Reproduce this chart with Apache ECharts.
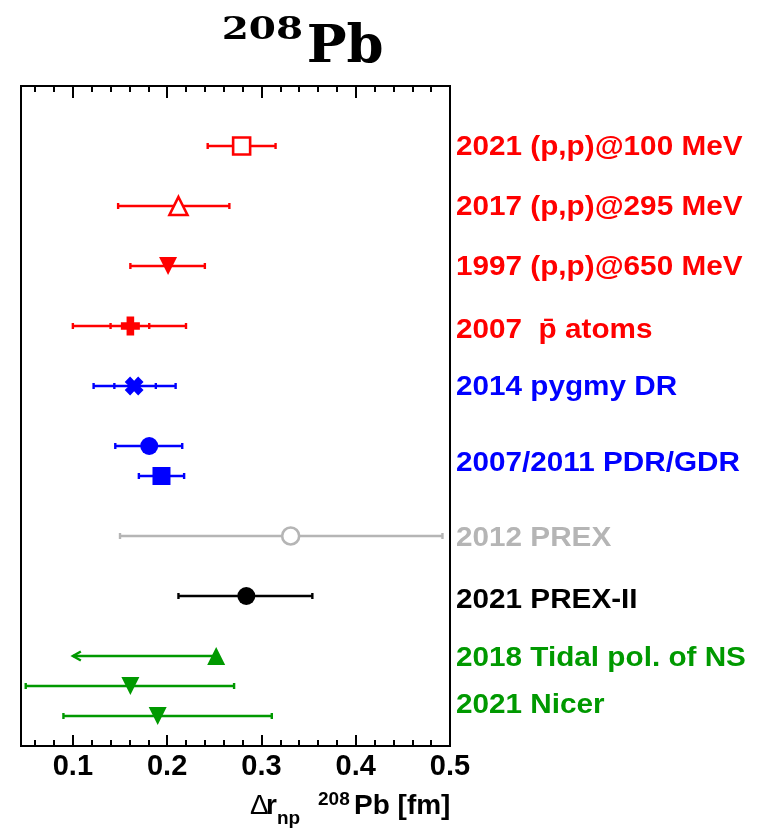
<!DOCTYPE html>
<html><head><meta charset="utf-8">
<script src="https://cdn.jsdelivr.net/npm/echarts@6/dist/echarts.min.js"></script>
<style>html,body{margin:0;padding:0;background:#fff}#c{width:759px;height:829px}</style>
</head><body><div id="c"></div>
<script>
// ---- data ----
const xMin = 0.045, xMax = 0.5;
const xTicks = [0.1, 0.2, 0.3, 0.4, 0.5];
const xMinorTicks = [0.06, 0.08, 0.12, 0.14, 0.16, 0.18, 0.22, 0.24, 0.26, 0.28, 0.32, 0.34, 0.36, 0.38, 0.42, 0.44, 0.46, 0.48];

const labelTexts = ["2021 (p,p)@100 MeV", "2017 (p,p)@295 MeV", "1997 (p,p)@650 MeV", "2007  p\u0304 atoms", "2014 pygmy DR", "2007/2011 PDR/GDR", "2012 PREX", "2021 PREX-II", "2018 Tidal pol. of NS", "2021 Nicer"];
const labelRows = [2, 4, 6, 8.1, 10, 12.55, 15.05, 17.1, 19.05, 20.6];
const labelGroups = ["red", "red", "red", "red", "blue", "blue", "gray", "black", "green", "green"];

const pointRows   = [2, 4, 6, 8, 10, 12, 13, 15, 17, 19, 20, 21];
const pointValues = [0.279, 0.212, 0.201, 0.161, 0.165, 0.181, 0.194, 0.331, 0.284, 0.252, 0.161, 0.190];
const errLow      = [0.243, 0.148, 0.161, 0.100, 0.122, 0.145, 0.170, 0.150, 0.212, 0.100, 0.050, 0.090];
const errHigh     = [0.315, 0.266, 0.240, 0.220, 0.209, 0.216, 0.218, 0.492, 0.354, 0.252, 0.271, 0.311];
const statLow     = [null, null, null, 0.140, 0.144, null, null, null, null, null, null, null];
const statHigh    = [null, null, null, 0.181, 0.188, null, null, null, null, null, null, null];
const upperLimit  = [false, false, false, false, false, false, false, false, false, true, false, false];
const pointGroups = ["red", "red", "red", "red", "blue", "blue", "blue", "gray", "black", "green", "green", "green"];

// ---- styles ----
const colors = { red: "#ff0000", blue: "#0000ff", gray: "#b5b5b5", black: "#000000", green: "#009900" };
const PLUS = "path://M-2,-5 L2,-5 L2,-2 L5,-2 L5,2 L2,2 L2,5 L-2,5 L-2,2 L-5,2 L-5,-2 L-2,-2 Z";
const markerStyles = [
  { symbol: "rect", size: 17, open: true },
  { symbol: "triangle", size: 18, open: true },
  { symbol: "triangle", size: 18, rotate: 180 },
  { symbol: PLUS, size: 19 },
  { symbol: PLUS, size: 19, rotate: 45 },
  { symbol: "circle", size: 18 },
  { symbol: "rect", size: 18 },
  { symbol: "circle", size: 17, open: true },
  { symbol: "circle", size: 18 },
  { symbol: "triangle", size: 18 },
  { symbol: "triangle", size: 18, rotate: 180 },
  { symbol: "triangle", size: 18, rotate: 180 }
];

const chart = echarts.init(document.getElementById("c"), null, { renderer: "canvas" });

function xAxisDef(pos, ticks, len, showLabel, showLine) {
  return {
    type: "value", position: pos, min: xMin, max: xMax,
    axisLine: { show: showLine, onZero: false, lineStyle: { color: "#000", width: 2 } },
    axisTick: { show: true, inside: true, length: len, customValues: ticks, lineStyle: { color: "#000", width: 2 } },
    axisLabel: showLabel ? {
      show: true, customValues: ticks, margin: 6, color: "#000",
      fontFamily: "Liberation Sans", fontWeight: "bold", fontSize: 29
    } : { show: false },
    splitLine: { show: false }, minorTick: { show: false }
  };
}

const scatterData = pointValues.map((v, i) => {
  const m = markerStyles[i];
  const c = colors[pointGroups[i]];
  return {
    value: [v, pointRows[i]],
    symbol: m.symbol,
    symbolSize: m.size,
    symbolRotate: m.rotate || 0,
    itemStyle: m.open ? { color: "#fff", borderColor: c, borderWidth: 2.6, opacity: 1 } : { color: c, borderWidth: 0, opacity: 1 }
  };
});

const option = {
  animation: false,
  backgroundColor: "#fff",
  grid: { left: 21, right: 309, top: 86, bottom: 83, show: true, borderColor: "#000", borderWidth: 2, backgroundColor: "transparent" },
  xAxis: [
    xAxisDef("bottom", xTicks, 11, true, true),
    xAxisDef("bottom", xMinorTicks, 6, false, false),
    xAxisDef("top", xTicks, 12, false, true),
    xAxisDef("top", xMinorTicks, 6, false, false)
  ],
  yAxis: {
    type: "value", min: 0, max: 22, inverse: true,
    axisLine: { show: true, lineStyle: { color: "#000", width: 2 } },
    axisTick: { show: false }, axisLabel: { show: false }, splitLine: { show: false }
  },
  series: [
    {
      type: "custom",
      z: 2,
      data: pointRows.map((r, i) => [errLow[i], errHigh[i], r, i]),
      encode: { x: [0, 1], y: 2 },
      renderItem: function (params, api) {
        const i = api.value(3);
        const c = colors[pointGroups[i]];
        const row = pointRows[i];
        const a = api.coord([errLow[i], row]);
        const b = api.coord([errHigh[i], row]);
        const st = { stroke: c, lineWidth: 2.4, opacity: 1 };
        const kids = [{ type: "line", shape: { x1: a[0], y1: a[1], x2: b[0], y2: b[1] }, style: st }];
        const cap = (p, h) => ({ type: "line", shape: { x1: p[0], y1: p[1] - h, x2: p[0], y2: p[1] + h }, style: st });
        if (upperLimit[i]) {
          kids.push({ type: "polyline", shape: { points: [[a[0] + 8, a[1] - 4.5], [a[0], a[1]], [a[0] + 8, a[1] + 4.5]] }, style: { stroke: c, lineWidth: 2.4, fill: null } });
        } else {
          kids.push(cap(a, 3), cap(b, 3));
        }
        if (statLow[i] != null) {
          kids.push(cap(api.coord([statLow[i], row]), 3), cap(api.coord([statHigh[i], row]), 3));
        }
        return { type: "group", children: kids };
      }
    },
    {
      type: "scatter",
      z: 5,
      itemStyle: { opacity: 1 },
      data: scatterData
    }
  ]
};
chart.setOption(option);

// ---- texts ----
const gfx = [];
const labelX = chart.convertToPixel({ xAxisIndex: 0 }, xMax) + 6;
labelTexts.forEach((t, i) => {
  const y = chart.convertToPixel({ yAxisIndex: 0 }, labelRows[i]) + 1.3;
  gfx.push({
    type: "text", x: labelX, y: y, scaleX: 1.1, silent: true,
    style: { text: t, fill: colors[labelGroups[i]], fontFamily: "Liberation Sans", fontWeight: "bold", fontSize: 27, align: "left", verticalAlign: "middle", textAlign: "left", textVerticalAlign: "middle" }
  });
});
// title
gfx.push({ type: "text", x: 221.7, y: 30.5, scaleX: 1.22, style: { text: "208", fill: "#000", fontFamily: "DejaVu Serif", fontWeight: "bold", fontSize: 32, align: "left", verticalAlign: "middle", textAlign: "left", textVerticalAlign: "middle" } });
gfx.push({ type: "text", x: 306.7, y: 48, style: { text: "Pb", fill: "#000", fontFamily: "DejaVu Serif", fontWeight: "bold", fontSize: 53, align: "left", verticalAlign: "middle", textAlign: "left", textVerticalAlign: "middle" } });
// axis title
const axT = (txt, x, y, size, weight) => ({ type: "text", x: x, y: y, style: { text: txt, fill: "#000", fontFamily: "Liberation Sans", fontWeight: weight, fontSize: size, align: "left", verticalAlign: "middle", textAlign: "left", textVerticalAlign: "middle" } });
gfx.push(axT("\u0394", 250, 806.3, 28, "normal"));
gfx.push(axT("r", 266, 806.3, 28, "bold"));
gfx.push(axT("np", 277, 819, 19, "bold"));
gfx.push(axT("208", 318, 800, 19, "bold"));
gfx.push(axT("Pb [fm]", 354, 806.3, 28, "bold"));
chart.setOption({ graphic: gfx });
</script>
</body></html>
